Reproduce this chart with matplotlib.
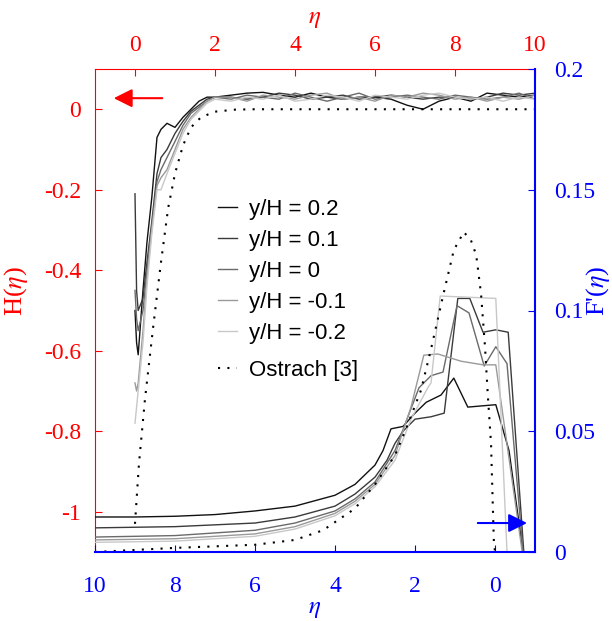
import matplotlib
matplotlib.use("Agg")
import matplotlib.pyplot as plt

plt.rcParams['font.family'] = ['Liberation Serif', 'DejaVu Serif']
plt.rcParams['mathtext.fontset'] = 'stix'

# --- H(eta) data (top / left axes) ---
eta_h = [0, 0.04, 0.08, 0.2, 0.3, 0.42, 0.55, 0.65, 0.8, 1.0, 1.2, 1.4, 1.6, 1.8, 2.0,
         2.4, 2.8, 3.2, 3.6, 4.0, 4.4, 4.8, 5.2, 5.6, 6.0, 6.4, 6.8, 7.2, 7.6, 8.0,
         8.4, 8.8, 9.2, 9.6, 10.0]
h_p02 = [-0.50, -0.58, -0.61, -0.45, -0.33, -0.22, -0.07, -0.05, -0.035, -0.045, -0.02, 0.0, 0.02, 0.03, 0.03,
         0.035, 0.04, 0.042, 0.035, 0.03, 0.04, 0.03, 0.025, 0.03, 0.03, 0.025, 0.01, 0.0, 0.02, 0.03,
         0.02, 0.04, 0.035, 0.03, 0.035]
h_p01 = [-0.21, -0.45, -0.50, -0.47, -0.38, -0.28, -0.16, -0.12, -0.10, -0.06, -0.03, -0.005, 0.01, 0.025, 0.03,
         0.03, 0.025, 0.03, 0.04, 0.035, 0.025, 0.03, 0.035, 0.025, 0.03, 0.035, 0.03, 0.025, 0.03, 0.03,
         0.025, 0.03, 0.04, 0.035, 0.04]
h_0 = [-0.45, -0.52, -0.55, -0.50, -0.40, -0.29, -0.18, -0.15, -0.12, -0.08, -0.04, -0.01, 0.005, 0.02, 0.03,
       0.025, 0.035, 0.03, 0.025, 0.04, 0.03, 0.02, 0.03, 0.04, 0.025, 0.03, 0.035, 0.03, 0.025, 0.035,
       0.03, 0.025, 0.03, 0.04, 0.025]
h_m01 = [-0.68, -0.70, -0.68, -0.55, -0.42, -0.30, -0.19, -0.17, -0.15, -0.10, -0.05, -0.02, 0.0, 0.02, 0.03,
         0.03, 0.02, 0.035, 0.03, 0.025, 0.035, 0.04, 0.025, 0.03, 0.02, 0.035, 0.03, 0.04, 0.035, 0.025,
         0.03, 0.02, 0.03, 0.025, 0.035]
h_m02 = [-0.78, -0.74, -0.70, -0.58, -0.44, -0.31, -0.20, -0.20, -0.16, -0.11, -0.06, -0.025, -0.005, 0.015, 0.025,
         0.02, 0.03, 0.025, 0.035, 0.02, 0.025, 0.035, 0.03, 0.02, 0.035, 0.03, 0.025, 0.035, 0.04, 0.03,
         0.025, 0.03, 0.02, 0.03, 0.025]
eta_h_ostrach = [0, 0.1, 0.25, 0.45, 0.65, 0.83, 1.0, 1.2, 1.4, 1.65, 2.0, 2.5, 3.0, 10.0]
h_ostrach = [-1.03, -0.88, -0.72, -0.545, -0.38, -0.245, -0.16, -0.09, -0.045, -0.02, -0.006, -0.001, 0.0, 0.0]

# --- F'(eta) data (bottom / right axes, eta reversed) ---
eta_f_p02 = [10, 9, 8, 7, 6, 5, 4, 3.5, 3.0, 2.8, 2.6, 2.3, 2.0, 1.72, 1.35, 1.03, 0.68, -0.02, -0.35, -0.7]
f_p02 = [0.0145, 0.0145, 0.0148, 0.0155, 0.017, 0.019, 0.0235, 0.028, 0.036, 0.042, 0.051, 0.052, 0.0575,
         0.062, 0.065, 0.072, 0.060, 0.061, 0.042, 0.0]
eta_f_p01 = [10, 8, 6, 5, 4, 3.5, 3.0, 2.7, 2.5, 2.3, 2.0, 1.6, 1.27, 0.93, 0.63, 0.3, -0.02, -0.33, -0.72]
f_p01 = [0.010, 0.0105, 0.012, 0.0145, 0.019, 0.024, 0.031, 0.038, 0.045, 0.050, 0.055, 0.056, 0.0575,
         0.105, 0.105, 0.091, 0.092, 0.091, 0.0]
eta_f_0 = [10, 8, 6, 5, 4, 3.5, 3.0, 2.5, 2.2, 1.9, 1.6, 1.3, 0.95, 0.65, 0.27, -0.02, -0.3, -0.7]
f_0 = [0.0062, 0.0068, 0.009, 0.012, 0.017, 0.022, 0.029, 0.042, 0.055, 0.068, 0.073, 0.0745, 0.102,
       0.099, 0.077, 0.085, 0.078, 0.0]
eta_f_m01 = [10, 8, 6, 5, 4, 3.5, 3.0, 2.5, 2.1, 1.78, 1.43, 0.85, 0.3, -0.02, -0.68]
f_m01 = [0.005, 0.0055, 0.0075, 0.0105, 0.016, 0.021, 0.028, 0.040, 0.060, 0.0815, 0.082, 0.079,
         0.0775, 0.0775, 0.0]
eta_f_m02 = [10, 8, 6, 5, 4, 3.5, 3.0, 2.5, 2.1, 1.68, 1.6, 1.37, -0.02, -0.3, -1.0]
f_m02 = [0.004, 0.0045, 0.0065, 0.0095, 0.015, 0.020, 0.027, 0.038, 0.055, 0.068, 0.070, 0.106,
         0.105, 0.0, 0.0]
eta_f_ostrach = [10, 8, 6, 5, 4.3, 3.5, 3.0, 2.5, 2.2, 1.85, 1.6, 1.3, 1.03, 0.78, 0.6, 0.47, 0.35,
                 0.25, 0.18, 0.1, 0.03, 0.0]
f_ostrach = [0.0, 0.0017, 0.003, 0.005, 0.009, 0.018, 0.028, 0.040, 0.052, 0.067, 0.084, 0.106, 0.125,
             0.1325, 0.129, 0.123, 0.107, 0.085, 0.065, 0.045, 0.005, 0.0]

labels = ['y/H = 0.2', 'y/H = 0.1', 'y/H = 0', 'y/H = -0.1', 'y/H = -0.2']
greys = ['#111111', '#3a3a3a', '#6a6a6a', '#9a9a9a', '#c8c8c8']

fig = plt.figure(figsize=(6.12, 6.21), dpi=100)
rect = [0.1552, 0.1111, 0.7190, 0.7778]

# H axes: top x, left y, red
ax1 = fig.add_axes(rect)
h_sets = [h_p02, h_p01, h_0, h_m01, h_m02]
for hv, c in zip(h_sets, greys):
    ax1.plot(eta_h, hv, color=c, lw=1.0)
ax1.plot(eta_h_ostrach, h_ostrach, color='black', ls=(0, (1, 3.5)), lw=1.5)
ax1.set_xlim(-1, 10)
ax1.set_ylim(-1.1, 0.1)
ax1.xaxis.tick_top()
ax1.xaxis.set_label_position('top')
ax1.set_xticks([0, 2, 4, 6, 8, 10])
ax1.set_yticks([0, -0.2, -0.4, -0.6, -0.8, -1])
ax1.set_yticklabels(['0', '-0.2', '-0.4', '-0.6', '-0.8', '-1'])
ax1.tick_params(colors='red', labelsize=17, direction='in', length=5)
ax1.tick_params(axis='x', pad=9)
ax1.tick_params(axis='y', pad=10)
ax1.set_xlabel(r'$\eta$', color='red', fontsize=18, labelpad=9)
ax1.set_ylabel(r'H($\eta$)', color='red', fontsize=19)
ax1.yaxis.set_label_coords(-0.148, 0.54)
for s in ['top', 'left']:
    ax1.spines[s].set_color('red')
ax1.spines['bottom'].set_visible(False)
ax1.spines['right'].set_visible(False)
ax1.annotate('', xy=(-0.6, 0.0275), xytext=(0.75, 0.0275),
             arrowprops=dict(arrowstyle='-|>', color='red', lw=1.5, mutation_scale=28))

# F' axes: bottom x (reversed), right y, blue
ax2 = fig.add_axes(rect, frameon=False)
f_sets = [(eta_f_p02, f_p02), (eta_f_p01, f_p01), (eta_f_0, f_0), (eta_f_m01, f_m01), (eta_f_m02, f_m02)]
sim_lines = []
for (ev, fv), c, lab in zip(f_sets, greys, labels):
    ln, = ax2.plot(ev, fv, color=c, lw=1.0, label=lab)
    sim_lines.append(ln)
ost_line, = ax2.plot(eta_f_ostrach, f_ostrach, color='black', ls=(0, (1, 3.5)), lw=1.5,
                     label='Ostrach [3]')
ax2.set_xlim(10, -1)
ax2.set_ylim(0, 0.2)
ax2.yaxis.tick_right()
ax2.yaxis.set_label_position('right')
ax2.set_xticks([10, 8, 6, 4, 2, 0])
ax2.set_yticks([0, 0.05, 0.1, 0.15, 0.2])
ax2.set_yticklabels(['0', '0.05', '0.1', '0.15', '0.2'])
ax2.tick_params(colors='blue', labelsize=17, direction='in', length=5)
ax2.tick_params(axis='x', pad=17)
ax2.tick_params(axis='y', pad=14)
ax2.set_xlabel(r'$\eta$', color='blue', fontsize=18, labelpad=1)
ax2.set_ylabel(r"F'($\eta$)", color='blue', fontsize=19)
ax2.yaxis.set_label_coords(1.112, 0.54)
ax2.set_frame_on(True)
ax2.patch.set_visible(False)
for s in ['bottom', 'right']:
    ax2.spines[s].set_color('blue')
    ax2.spines[s].set_linewidth(1.5)
ax2.spines['top'].set_visible(False)
ax2.spines['left'].set_visible(False)
ax2.annotate('', xy=(-0.87, 0.012), xytext=(0.5, 0.012),
             arrowprops=dict(arrowstyle='-|>', color='blue', lw=1.5, mutation_scale=28))

leg_font = {'family': 'Liberation Sans', 'size': 16}
leg1 = ax2.legend(handles=sim_lines, loc='upper left', bbox_to_anchor=(0.2795, 0.731),
                  frameon=False, prop=leg_font, handlelength=0.85, handletextpad=0.55,
                  labelspacing=0.45, borderpad=0, borderaxespad=0)
ax2.add_artist(leg1)
ax2.legend(handles=[ost_line], loc='upper left', bbox_to_anchor=(0.2795, 0.398),
           frameon=False, prop=leg_font, handlelength=0.85, handletextpad=0.55,
           borderpad=0, borderaxespad=0)

fig.savefig('out.png', dpi=100)
